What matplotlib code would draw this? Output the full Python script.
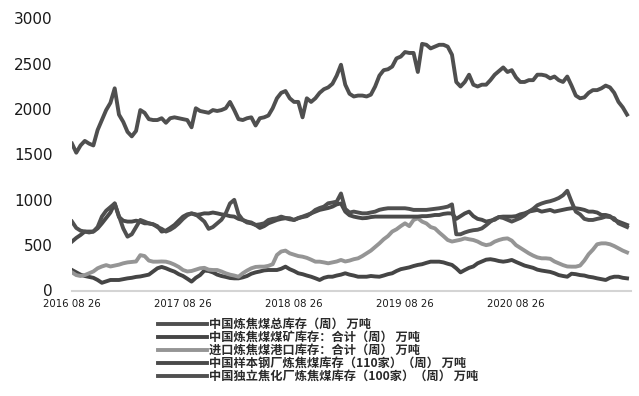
import matplotlib
matplotlib.use("Agg")
import matplotlib.pyplot as plt
import matplotlib.dates as mdates
import pandas as pd

# weekly data sampled every two weeks, 2016-08-26 .. 2021-08-20
dates = pd.date_range("2016-08-26", periods=131, freq="14D")

total = [1620, 1520, 1600, 1650, 1620, 1600, 1770, 1880, 1990, 2070,
         2230, 1940, 1860, 1750, 1700, 1760, 1990, 1960, 1890, 1880,
         1880, 1900, 1850, 1900, 1910, 1900, 1890, 1880, 1800, 2010,
         1980, 1970, 1960, 1990, 1980, 1990, 2010, 2080, 1990, 1890,
         1880, 1900, 1910, 1820, 1900, 1910, 1930, 2010, 2120, 2180,
         2200, 2120, 2080, 2080, 1910, 2120, 2080, 2120, 2180, 2220,
         2240, 2280, 2370, 2490, 2270, 2170, 2140, 2150, 2150, 2140,
         2160, 2250, 2370, 2430, 2440, 2470, 2560, 2580, 2630, 2620,
         2620, 2410, 2720, 2710, 2670, 2690, 2710, 2710, 2690, 2600,
         2300, 2250, 2300, 2380, 2270, 2250, 2270, 2270, 2320, 2380,
         2420, 2460, 2410, 2430, 2350, 2300, 2300, 2320, 2320, 2380,
         2380, 2370, 2340, 2360, 2320, 2300, 2360, 2260, 2150, 2120,
         2130, 2180, 2210, 2210, 2230, 2260, 2240, 2180, 2080, 2020,
         1940]

mine = [226, 200, 175, 160, 150, 140, 116, 85, 100, 116,
        116, 116, 125, 134, 140, 150, 155, 165, 175, 210,
        245, 260, 245, 225, 208, 180, 160, 130, 98, 140,
        170, 220, 215, 200, 175, 160, 150, 138, 134, 134,
        145, 160, 185, 200, 210, 222, 226, 226, 226, 240,
        263, 235, 215, 190, 180, 165, 152, 135, 116, 140,
        152, 152, 165, 175, 190, 175, 165, 152, 152, 152,
        160, 155, 152, 165, 180, 190, 215, 235, 245, 255,
        270, 282, 290, 305, 318, 318, 318, 310, 295, 282,
        245, 200, 226, 250, 265, 300, 320, 340, 345, 337,
        325, 318, 325, 337, 315, 295, 275, 263, 250, 230,
        220, 212, 205, 190, 170, 160, 152, 185, 180, 170,
        165, 152, 145, 134, 125, 116, 140, 152, 152, 140,
        134]

port = [200, 170, 160, 170, 190, 210, 245, 265, 280, 265,
        275, 285, 300, 310, 315, 320, 390, 380, 330, 318,
        318, 320, 318, 305, 285, 260, 226, 210, 215, 230,
        245, 250, 230, 226, 226, 210, 190, 175, 165, 152,
        190, 220, 245, 260, 263, 263, 272, 290, 392, 430,
        440, 410, 395, 380, 373, 360, 340, 318, 318, 310,
        300, 310, 320, 337, 320, 330, 345, 355, 380, 410,
        440, 480, 520, 565, 600, 650, 675, 710, 741, 710,
        778, 797, 760, 740, 700, 685, 640, 600, 557, 540,
        550, 560, 575, 565, 557, 540, 515, 500, 510, 539,
        557, 570, 575, 550, 500, 470, 440, 410, 385, 365,
        355, 355, 350, 320, 300, 280, 265, 263, 263, 275,
        330, 400, 450, 510, 520, 520, 510, 490, 465, 440,
        420]

steel = [540, 580, 612, 650, 650, 650, 685, 740, 800, 860,
         960, 810, 770, 760, 760, 770, 760, 741, 741, 730,
         710, 650, 660, 690, 723, 770, 815, 840, 850, 833,
         840, 851, 850, 860, 851, 840, 833, 820, 815, 790,
         778, 750, 741, 723, 690, 710, 741, 760, 778, 790,
         797, 785, 778, 797, 810, 820, 851, 870, 889, 900,
         910, 925, 950, 960, 870, 830, 815, 805, 797, 800,
         810, 815, 815, 815, 815, 815, 815, 815, 815, 815,
         815, 815, 820, 820, 825, 833, 833, 845, 851, 850,
         790, 820, 850, 870, 820, 790, 780, 760, 770, 780,
         810, 815, 815, 815, 820, 840, 851, 870, 880, 889,
         870, 880, 889, 870, 880, 889, 900, 907, 907, 900,
         889, 870, 870, 860, 833, 833, 820, 778, 760, 741,
         723]

coke = [760, 690, 660, 650, 640, 650, 700, 815, 880, 920,
        960, 820, 685, 594, 620, 700, 778, 760, 740, 730,
        700, 680, 650, 670, 700, 741, 790, 830, 850, 840,
        800, 760, 680, 700, 740, 780, 850, 960, 1000, 840,
        778, 760, 750, 723, 730, 741, 778, 790, 797, 815,
        800, 797, 778, 800, 815, 833, 850, 889, 910, 925,
        962, 970, 980, 1070, 900, 860, 870, 860, 851, 851,
        860, 870, 890, 900, 907, 907, 907, 907, 907, 900,
        889, 889, 889, 889, 895, 900, 907, 915, 925, 950,
        620, 620, 640, 655, 665, 670, 685, 720, 760, 790,
        810, 800, 780, 760, 780, 800, 830, 870, 900, 940,
        960, 975, 985, 1000, 1020, 1050, 1100, 980, 870, 840,
        790, 778, 778, 790, 800, 815, 810, 797, 741, 720,
        700]

labels = ["中国炼焦煤总库存（周） 万吨",
          "中国炼焦煤煤矿库存：合计（周） 万吨",
          "进口炼焦煤港口库存：合计（周） 万吨",
          "中国样本钢厂炼焦煤库存（110家）（周） 万吨",
          "中国独立焦化厂炼焦煤库存（100家）（周） 万吨"]
series = [total, mine, port, steel, coke]
colors = ["#4f4f4f", "#454545", "#959595", "#4a4a4a", "#505050"]

tick_idx = [0, 26, 52, 78, 104]
tick_labels = ["2016 08 26", "2017 08 26", "2018 08 26", "2019 08 26", "2020 08 26"]
yticks = [0, 500, 1000, 1500, 2000, 2500, 3000]

plt.rcParams['font.family'] = ['DejaVu Sans']
fig = plt.figure(figsize=(6.39, 3.96), dpi=100)
ax = fig.add_axes([72/639, 1-290.5/396, (631-72)/639, (290.5-18.5)/396])

handles = []
for s, c, lab in zip(series, colors, labels):
    h, = ax.plot(dates, s, color=c, lw=2.8, solid_joinstyle='round', label=lab)
    handles.append(h)

ax.set_xlim(dates[0], dates[-1] + pd.Timedelta(days=13))
ax.set_ylim(0, 3000)
ax.set_yticks(yticks)
ax.set_yticklabels([str(v) for v in yticks], fontsize=11, color="#1a1a1a")
ax.set_xticks([dates[i] for i in tick_idx])
ax.set_xticklabels(tick_labels, fontsize=7.3, color="#1a1a1a")
ax.tick_params(axis='y', length=0, pad=14)
ax.tick_params(axis='x', length=0, pad=6)
for sp in ["top", "right", "left"]:
    ax.spines[sp].set_visible(False)
ax.spines["bottom"].set_color("#d4d4d4")
ax.spines["bottom"].set_linewidth(1.5)

leg = fig.legend(handles=handles, labels=labels, loc="upper left",
                 bbox_to_anchor=(158/639, 1-318/396), frameon=False,
                 prop={'family': ['Noto Sans CJK SC', 'DejaVu Sans'], 'size': 8.8, 'weight': 'bold'},
                 handlelength=4.0, handletextpad=0.15, labelspacing=0.0,
                 borderpad=0, borderaxespad=0)
for t in leg.get_texts():
    t.set_color("#2a2a2a")

fig.savefig("out.png", dpi=100)
